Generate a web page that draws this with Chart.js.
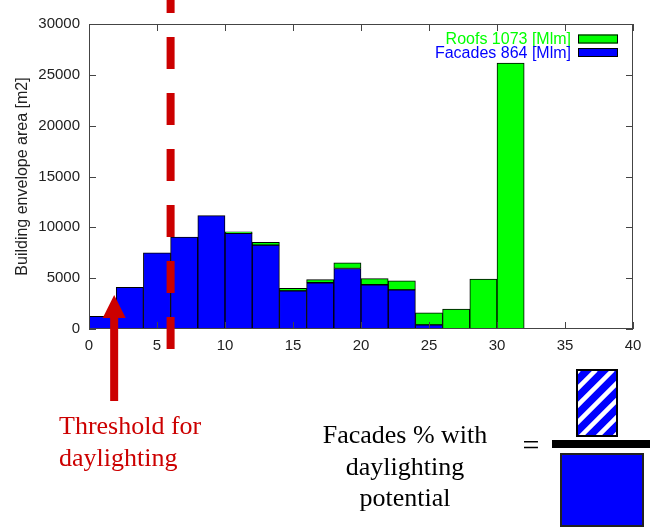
<!DOCTYPE html>
<html>
<head>
<meta charset="utf-8">
<script src="https://cdn.jsdelivr.net/npm/chart.js@4/dist/chart.umd.min.js"></script>
<style>
  body { margin: 0; background: #fff; }
  #wrap { width: 654px; height: 530px; }
</style>
</head>
<body>
<div id="wrap"><canvas id="hist" width="654" height="530"></canvas></div>
<script>
// bin centres (bins are 2 wide, from 0 to 32)
var binCenters = [1, 3, 5, 7, 9, 11, 13, 15, 17, 19, 21, 23, 25, 27, 29, 31];
// building envelope area [m2] per bin
var facades = [1250, 4100, 7500, 9050, 11150, 9400, 8250, 3750, 4550, 5950, 4350, 3850, 400, 0, 0, 0];
var roofs   = [0, 0, 0, 0, 0, 150, 280, 250, 300, 550, 600, 900, 1200, 1950, 4900, 26150];
var seriesLabels = ['Facades 864 [Mlm]', 'Roofs 1073 [Mlm]'];
var xTicks = [0, 5, 10, 15, 20, 25, 30, 35, 40];
var yTicks = [0, 5000, 10000, 15000, 20000, 25000, 30000];
var thresholdX = 6;    // daylighting threshold
var arrowX = 1.85;

var RED = '#cc0000';
var sans = '"Liberation Sans", Arial, sans-serif';
var serif = '"Liberation Serif", "Times New Roman", serif';

function points(vals) {
  return binCenters.map(function (c, i) { return { x: c, y: vals[i] }; });
}

// frame + gnuplot style inner ticks on all four sides
var framePlugin = {
  id: 'frame',
  afterDatasetsDraw: function (chart) {
    var ctx = chart.ctx, a = chart.chartArea;
    var xs = chart.scales.x, ys = chart.scales.y;
    ctx.save();
    ctx.strokeStyle = '#444';
    ctx.lineWidth = 1;
    ctx.strokeRect(a.left + 0.5, a.top + 0.5, a.right - a.left - 1, a.bottom - a.top - 1);
    ctx.beginPath();
    xTicks.forEach(function (t) {
      var px = Math.round(xs.getPixelForValue(t)) + 0.5;
      ctx.moveTo(px, a.bottom); ctx.lineTo(px, a.bottom - 7);
      ctx.moveTo(px, a.top); ctx.lineTo(px, a.top + 7);
    });
    yTicks.forEach(function (t) {
      var py = Math.round(ys.getPixelForValue(t)) + 0.5;
      ctx.moveTo(a.left, py); ctx.lineTo(a.left + 7, py);
      ctx.moveTo(a.right, py); ctx.lineTo(a.right - 7, py);
    });
    ctx.stroke();
    ctx.restore();
  }
};

// legend in the top right corner: text right aligned, swatch after it
var legendPlugin = {
  id: 'cornerLegend',
  afterDatasetsDraw: function (chart) {
    var ctx = chart.ctx, a = chart.chartArea;
    var ds = chart.data.datasets.slice().reverse();
    ctx.save();
    ctx.font = '16px ' + sans;
    ctx.textAlign = 'right';
    ctx.textBaseline = 'middle';
    ds.forEach(function (d, i) {
      var cy = a.top + 15 + i * 13.5;
      ctx.fillStyle = d.backgroundColor;
      ctx.fillText(d.label, a.right - 62, cy + 1);
      ctx.fillRect(a.right - 55, cy - 4.5, 40, 9);
      ctx.strokeStyle = '#000';
      ctx.lineWidth = 1;
      ctx.strokeRect(a.right - 54.5, cy - 4, 39, 8);
    });
    ctx.restore();
  }
};

// threshold line, arrow and the text below the chart
var notesPlugin = {
  id: 'notes',
  afterDraw: function (chart) {
    var ctx = chart.ctx, a = chart.chartArea;
    var xs = chart.scales.x;
    ctx.save();

    // dashed threshold line
    var tx = xs.getPixelForValue(thresholdX);
    ctx.strokeStyle = RED;
    ctx.lineWidth = 8;
    ctx.setLineDash([32, 24]);
    ctx.lineDashOffset = 19;
    ctx.beginPath();
    ctx.moveTo(tx, 0);
    ctx.lineTo(tx, a.bottom + 20);
    ctx.stroke();
    ctx.setLineDash([]);

    // arrow
    var ax = xs.getPixelForValue(arrowX);
    ctx.fillStyle = RED;
    ctx.fillRect(ax - 4, a.bottom - 11, 8, 83);
    ctx.beginPath();
    ctx.moveTo(ax, a.bottom - 34);
    ctx.lineTo(ax + 11.5, a.bottom - 11);
    ctx.lineTo(ax - 11.5, a.bottom - 11);
    ctx.closePath();
    ctx.fill();

    // threshold caption
    ctx.font = '26px ' + serif;
    ctx.textAlign = 'left';
    ctx.textBaseline = 'alphabetic';
    ctx.fillText('Threshold for', 59, 434);
    ctx.fillText('daylighting', 59, 466);

    // facade share caption
    ctx.fillStyle = '#000';
    ctx.textAlign = 'center';
    ctx.fillText('Facades % with', 405, 443);
    ctx.fillText('daylighting', 405, 475);
    ctx.fillText('potential', 405, 506);
    ctx.font = '30px ' + serif;
    ctx.fillText('=', 531, 455);

    // fraction: hatched facade over full facade
    ctx.fillStyle = '#000';
    ctx.fillRect(552, 440, 98, 8);

    ctx.save();
    ctx.beginPath();
    ctx.rect(577, 370, 40, 66);
    ctx.clip();
    ctx.fillStyle = '#0000ff';
    ctx.fillRect(577, 370, 40, 66);
    ctx.strokeStyle = '#fff';
    ctx.lineWidth = 4.5;
    ctx.beginPath();
    for (var k = -4; k < 8; k++) {
      var bx = 560 + k * 17;
      ctx.moveTo(bx, 440);
      ctx.lineTo(bx + 70, 370);
    }
    ctx.stroke();
    ctx.restore();
    ctx.strokeStyle = '#000';
    ctx.lineWidth = 2;
    ctx.strokeRect(577, 370, 40, 66);

    ctx.fillStyle = '#0000ff';
    ctx.fillRect(561, 454, 82, 72);
    ctx.strokeStyle = '#222';
    ctx.lineWidth = 2;
    ctx.strokeRect(561, 454, 82, 72);

    ctx.restore();
  }
};

var histChart = new Chart(document.getElementById('hist'), {
  type: 'bar',
  data: {
    datasets: [{
      label: seriesLabels[0],
      data: points(facades),
      backgroundColor: '#0000ff',
      borderColor: '#000',
      borderWidth: 1,
      borderSkipped: false
    }, {
      label: seriesLabels[1],
      data: points(roofs),
      backgroundColor: '#00ff00',
      borderColor: '#000',
      borderWidth: 1,
      borderSkipped: false
    }]
  },
  options: {
    responsive: false,
    animation: false,
    barPercentage: 1,
    categoryPercentage: 1,
    layout: { padding: { left: 0, right: 21, top: 24, bottom: 0 } },
    plugins: {
      legend: { display: false },
      tooltip: { enabled: false }
    },
    scales: {
      x: {
        type: 'linear',
        stacked: true,
        offset: false,
        min: 0,
        max: 40,
        grid: { display: false, drawTicks: false, offset: false },
        border: { display: false },
        afterFit: function (s) { s.height = 201; },
        afterBuildTicks: function (s) { s.ticks = xTicks.map(function (v) { return { value: v }; }); },
        ticks: {
          padding: 8,
          color: '#222',
          font: { family: sans, size: 15 },
          callback: function (v) { return String(v); }
        }
      },
      y: {
        stacked: true,
        min: 0,
        max: 30000,
        grid: { display: false, drawTicks: false },
        border: { display: false },
        afterFit: function (s) { s.width = 89; },
        afterBuildTicks: function (s) { s.ticks = yTicks.map(function (v) { return { value: v }; }); },
        ticks: {
          padding: 9,
          color: '#222',
          font: { family: sans, size: 15 },
          callback: function (v) { return String(v); }
        },
        title: {
          display: true,
          text: 'Building envelope area [m2]',
          color: '#222',
          font: { family: sans, size: 16 },
          padding: { top: 13, bottom: 0 }
        }
      }
    }
  },
  plugins: [framePlugin, legendPlugin, notesPlugin]
});
</script>
</body>
</html>
